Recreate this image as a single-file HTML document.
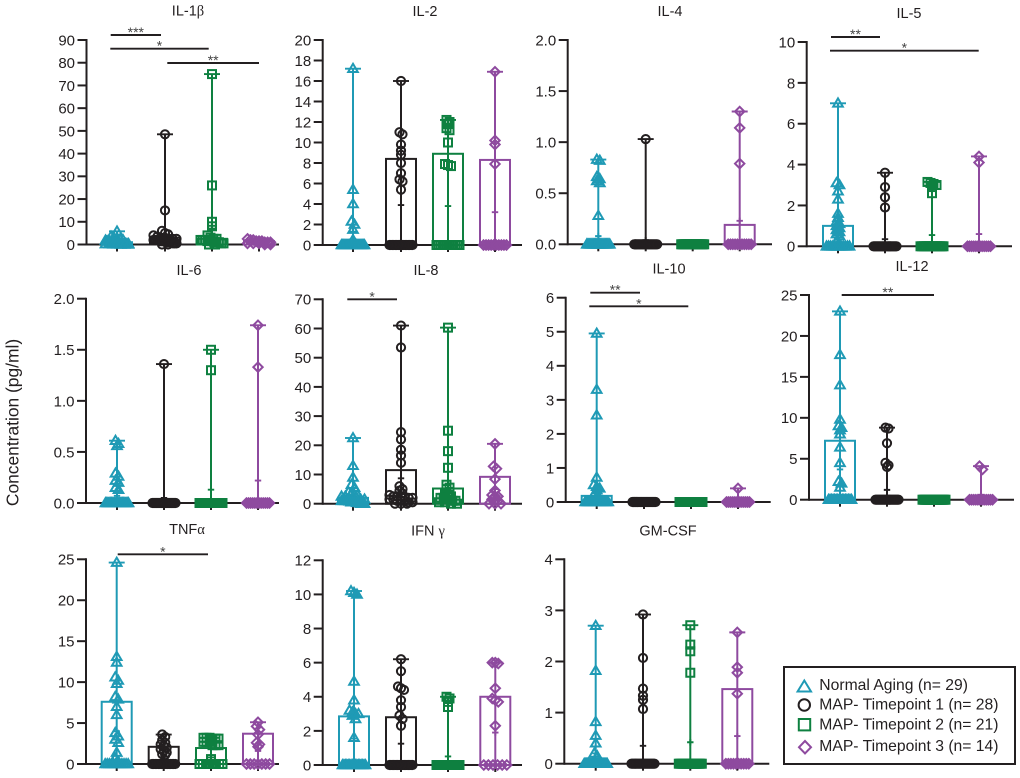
<!DOCTYPE html>
<html lang="en">
<head>
<meta charset="utf-8">
<title>Cytokine concentrations</title>
<style>
html,body{margin:0;padding:0;background:#fff;}
svg{display:block;}
text{font-family:"Liberation Sans",Arial,sans-serif;fill:#231f20;}
.ttl{font-size:14.5px;text-anchor:middle;}
.gr{font-family:"Liberation Serif",serif;}
.leg{font-size:15.7px;dominant-baseline:central;}
</style>
</head>
<body>
<svg id="chart" xmlns="http://www.w3.org/2000/svg" width="1020" height="778" viewBox="0 0 1020 778">
  <rect width="1020" height="778" fill="#fff"/>
  <text transform="translate(18.5,422.5) rotate(-90)" text-anchor="middle" font-size="17.4">Concentration (pg/ml)</text>

  <text class="ttl" x="188" y="15.5">IL-1<tspan class="gr">β</tspan></text>
  <text class="ttl" x="425" y="16">IL-2</text>
  <text class="ttl" x="670" y="16">IL-4</text>
  <text class="ttl" x="909" y="18">IL-5</text>
  <text class="ttl" x="189" y="275">IL-6</text>
  <text class="ttl" x="426" y="275">IL-8</text>
  <text class="ttl" x="669" y="273.5">IL-10</text>
  <text class="ttl" x="912" y="271">IL-12</text>
  <text class="ttl" x="187" y="534">TNF<tspan class="gr">α</tspan></text>
  <text class="ttl" x="428" y="535.5">IFN <tspan class="gr">γ</tspan></text>
  <text class="ttl" x="668" y="535.5">GM-CSF</text>

  <g id="plots"></g>

  <g>
    <rect x="784" y="667" width="231" height="97" fill="none" stroke="#231f20" stroke-width="2"/>
    <g>
      <path d="M804.3 680.5 L811 691.5 L797.6 691.5 Z" fill="none" stroke="#1f9ab5" stroke-width="2"/>
      <text class="leg" x="819.3" y="685.7">Normal Aging (n= 29)</text>
    </g>
    <g>
      <circle cx="804.3" cy="705" r="5.7" fill="none" stroke="#231f20" stroke-width="2"/>
      <text class="leg" x="819.3" y="705">MAP- Timepoint 1 (n= 28)</text>
    </g>
    <g>
      <rect x="798.8" y="719" width="11.4" height="11.4" fill="none" stroke="#0e8040" stroke-width="2"/>
      <text class="leg" x="819.3" y="725">MAP- Timepoint 2 (n= 21)</text>
    </g>
    <g>
      <path d="M805 741 L811 747.2 L805 753.4 L799 747.2 Z" fill="none" stroke="#8e4a9f" stroke-width="2"/>
      <text class="leg" x="819.3" y="746.7">MAP- Timepoint 3 (n= 14)</text>
    </g>
  </g>
</svg>

<script>
// ---- Data: tick labels, per-group values, box tops and means ----
const il1bTicks = ["0","10","20","30","40","50","60","70","80","90"];
const il1bNormal = [5.8,3.5,3,2.5,2.2,2,1.8,1.5,1.3,1.2,1,1,.8,.8,.6,.6,.5,.5,.4,.4,.3,.3,.2,.2,.1,.1,0,0,0];
const il1bT1 = [48.5,15,6,5,4.5,4,3.5,3,3,2.5,2.5,2.5,2,2,2,2,1.5,1.5,1.5,1,1,1,1,.5,.5,.5,0,0];
const il1bT2 = [75,26,10,8,4,3,2.5,2.5,2,2,2,1.5,1.5,1.5,1,1,1,.5,.5,0,0];
const il1bT3 = [2.5,2,2,1.5,1.5,1.5,1,1,1,.5,.5,.5,0,0];
const il1bQ3 = [1,3,2.5,1.5];
const il1bMean = [1,4,7,1];

const il2Ticks = ["0","2","4","6","8","10","12","14","16","18","20"];
const il2Normal = [17.2,5.4,4,2.3,2,1.5,.5,0,0,0,0,0,0,0,0,0,0,0,0,0,0,0,0,0,0,0,0,0,0];
const il2T1 = [16,11,10.8,9.8,9.2,8.8,8,7,6.4,6.2,5.4,0,0,0,0,0,0,0,0,0,0,0,0,0,0,0,0,0];
const il2T2 = [12.2,12,11.8,11.4,11.2,10,7.9,7.8,7.7,0,0,0,0,0,0,0,0,0,0,0,0];
const il2T3 = [16.9,10.2,9.8,7.9,0,0,0,0,0,0,0,0,0,0];
const il2Q3 = [0,8.4,8.9,8.3];
const il2Mean = [1.3,3.9,3.8,3.2];

const il4Ticks = ["0.0","0.5","1.0","1.5","2.0"];
const il4Normal = [.83,.82,.66,.64,.62,.6,.28,0,0,0,0,0,0,0,0,0,0,0,0,0,0,0,0,0,0,0,0,0,0];
const il4T1 = [1.03,0,0,0,0,0,0,0,0,0,0,0,0,0,0,0,0,0,0,0,0,0,0,0,0,0,0,0];
const il4T2 = [0,0,0,0,0,0,0,0,0,0,0,0,0,0,0,0,0,0,0,0,0];
const il4T3 = [1.3,1.14,.79,0,0,0,0,0,0,0,0,0,0,0];
const il4Q3 = [0,0,0,.19];
const il4Mean = [.08,.04,0,.23];

const il5Ticks = ["0","2","4","6","8","10"];
const il5Normal = [7,3.1,3,2.7,2.3,1.6,1.4,1.2,1.1,1,.9,.8,.7,.6,.5,.2,.1,0,0,0,0,0,0,0,0,0,0,0,0];
const il5T1 = [3.6,2.9,2.4,1.9,0,0,0,0,0,0,0,0,0,0,0,0,0,0,0,0,0,0,0,0,0,0,0,0];
const il5T2 = [3.15,3.1,3.05,3,2.9,2.6,0,0,0,0,0,0,0,0,0,0,0,0,0,0,0];
const il5T3 = [4.4,4.1,0,0,0,0,0,0,0,0,0,0,0,0];
const il5Q3 = [1,0,0,0];
const il5Mean = [.95,.35,.55,.6];

const il6Ticks = ["0.0","0.5","1.0","1.5","2.0"];
const il6Normal = [.61,.58,.56,.29,.26,.22,.2,.15,.13,0,0,0,0,0,0,0,0,0,0,0,0,0,0,0,0,0,0,0,0];
const il6T1 = [1.36,0,0,0,0,0,0,0,0,0,0,0,0,0,0,0,0,0,0,0,0,0,0,0,0,0,0,0];
const il6T2 = [1.5,1.3,0,0,0,0,0,0,0,0,0,0,0,0,0,0,0,0,0,0,0];
const il6T3 = [1.74,1.33,0,0,0,0,0,0,0,0,0,0,0,0];
const il6Q3 = [0,0,0,0];
const il6Mean = [.07,.05,.13,.22];

const il8Ticks = ["0","10","20","30","40","50","60","70"];
const il8Normal = [22.5,13,9,6.5,5.5,4,3.5,3,3,2.5,2.5,2,2,2,1.5,1.5,1,1,1,1,.8,.5,.5,.5,.3,.3,0,0,0];
const il8T1 = [61,53.5,24.5,22,18.5,16.5,14,6,5,4.5,3.5,3,2.5,2.5,2.5,2,2,2,1.5,1.5,1,1,1,.5,.5,0,0,0];
const il8T2 = [60.3,25,18,12.3,6.5,5.5,5,4,3.5,3,2.5,2,2,1.5,1.5,1,1,.5,.5,0,0];
const il8T3 = [20.5,12.8,12,8.4,4.5,3,2.5,2.5,1.5,1,1,0,0,0];
const il8Q3 = [2,11.5,5.2,9.2];
const il8Mean = [2.5,8.7,5,5];

const il10Ticks = ["0","1","2","3","4","5","6"];
const il10Normal = [4.95,3.3,2.55,.72,.5,.45,.4,.35,.2,.15,.1,0,0,0,0,0,0,0,0,0,0,0,0,0,0,0,0,0,0];
const il10T1 = [0,0,0,0,0,0,0,0,0,0,0,0,0,0,0,0,0,0,0,0,0,0,0,0,0,0,0,0];
const il10T2 = [0,0,0,0,0,0,0,0,0,0,0,0,0,0,0,0,0,0,0,0,0];
const il10T3 = [.4,0,0,0,0,0,0,0,0,0,0,0,0,0];
const il10Q3 = [.18,0,0,0];
const il10Mean = [.3,0,0,.03];

const il12Ticks = ["0","5","10","15","20","25"];
const il12Normal = [23,17.7,14,9.8,9,8.8,8.5,8,6.4,4.5,2.2,2,1.5,0,0,0,0,0,0,0,0,0,0,0,0,0,0,0,0];
const il12T1 = [8.8,8.7,6.9,4.5,4.2,4,0,0,0,0,0,0,0,0,0,0,0,0,0,0,0,0,0,0,0,0,0,0];
const il12T2 = [0,0,0,0,0,0,0,0,0,0,0,0,0,0,0,0,0,0,0,0,0];
const il12T3 = [4.1,3.7,0,0,0,0,0,0,0,0,0,0,0,0];
const il12Q3 = [7.2,0,0,0];
const il12Mean = [3.7,1.2,0,.6];

const tnfTicks = ["0","5","10","15","20","25"];
const tnfNormal = [24.6,13.1,12.4,10.6,10.2,9.8,8.2,7.9,7,6,3.8,3.4,3,2.6,1.4,.7,.3,0,0,0,0,0,0,0,0,0,0,0,0];
const tnfT1 = [3.6,3.3,2.9,2.6,2.4,2.2,2,1.8,1.6,1.4,1.2,1.1,0,0,0,0,0,0,0,0,0,0,0,0,0,0,0,0];
const tnfT2 = [3.2,3.2,3.2,3.1,3.1,3.1,2.7,2.7,2.7,2.3,2.3,2.3,.6,0,0,0,0,0,0,0,0];
const tnfT3 = [5.1,4.6,4.2,3.6,2.6,2.4,2.1,0,0,0,0,0,0,0];
const tnfQ3 = [7.6,2.1,1.95,3.7];
const tnfMean = [4,1,.8,1.6];

const ifnTicks = ["0","2","4","6","8","10","12"];
const ifnNormal = [10.2,10.1,10,4.9,3.8,3.2,3.1,3,3,2.9,2.7,1.6,0,0,0,0,0,0,0,0,0,0,0,0,0,0,0,0,0];
const ifnT1 = [6.2,5.5,4.6,4.5,4.4,3.8,3.4,2.9,2.7,2.3,0,0,0,0,0,0,0,0,0,0,0,0,0,0,0,0,0,0];
const ifnT2 = [4,3.9,3.7,3.4,0,0,0,0,0,0,0,0,0,0,0,0,0,0,0,0,0];
const ifnT3 = [6,6,5.95,4.5,3.9,3.8,3.7,2.3,0,0,0,0,0,0];
const ifnQ3 = [2.85,2.8,0,4];
const ifnMean = [1.55,1.25,.5,1.9];

const gmTicks = ["0","1","2","3","4"];
const gmNormal = [2.7,1.82,.82,.55,.4,.2,.15,0,0,0,0,0,0,0,0,0,0,0,0,0,0,0,0,0,0,0,0,0,0];
const gmT1 = [2.92,2.07,1.47,1.33,1.25,1.07,0,0,0,0,0,0,0,0,0,0,0,0,0,0,0,0,0,0,0,0,0,0];
const gmT2 = [2.71,2.33,2.2,1.78,0,0,0,0,0,0,0,0,0,0,0,0,0,0,0,0,0];
const gmT3 = [2.57,1.89,1.78,1.37,0,0,0,0,0,0,0,0,0,0];
const gmQ3 = [0,0,0,1.46];
const gmMean = [.2,.35,.42,.54];

const groupNames = ["normal-aging","timepoint-1","timepoint-2","timepoint-3"];
const groupColors = ["#1f9ab5","#231f20","#0e8040","#8e4a9f"];

// ---- Panel layout (pixels) ----
const panels = [
 {name:"il-1b",axisX:86.5,top:40,zero:244.5,xEnd:279,cats:[117,165,212,259],ticks:il1bTicks,groups:[il1bNormal,il1bT1,il1bT2,il1bT3],q3:il1bQ3,mean:il1bMean,
  sig:[{x1:110.7,x2:161,y:35,label:"***"},{x1:110.3,x2:208.7,y:48.7,label:"*"},{x1:167.3,x2:259,y:63,label:"**"}]},
 {name:"il-2",axisX:322.7,top:40,zero:245,xEnd:522,cats:[353,401,448,495],ticks:il2Ticks,groups:[il2Normal,il2T1,il2T2,il2T3],q3:il2Q3,mean:il2Mean,sig:[]},
 {name:"il-4",axisX:567.7,top:40,zero:244.3,xEnd:772,cats:[598.3,645.7,692.7,739.7],ticks:il4Ticks,groups:[il4Normal,il4T1,il4T2,il4T3],q3:il4Q3,mean:il4Mean,sig:[]},
 {name:"il-5",axisX:806.7,top:42,zero:246.3,xEnd:1012,cats:[838,885,932,979],ticks:il5Ticks,groups:[il5Normal,il5T1,il5T2,il5T3],q3:il5Q3,mean:il5Mean,
  sig:[{x1:831,x2:880,y:37,label:"**"},{x1:830,x2:978.7,y:50.7,label:"*"}]},
 {name:"il-6",axisX:86,top:298.7,zero:503,xEnd:279,cats:[117,164,211,258],ticks:il6Ticks,groups:[il6Normal,il6T1,il6T2,il6T3],q3:il6Q3,mean:il6Mean,sig:[]},
 {name:"il-8",axisX:322.7,top:299.3,zero:503.7,xEnd:522,cats:[353,401,448,495],ticks:il8Ticks,groups:[il8Normal,il8T1,il8T2,il8T3],q3:il8Q3,mean:il8Mean,
  sig:[{x1:347.3,x2:397,y:299.3,label:"*"}]},
 {name:"il-10",axisX:565.7,top:297.7,zero:502,xEnd:770.7,cats:[596.7,644,691,738],ticks:il10Ticks,groups:[il10Normal,il10T1,il10T2,il10T3],q3:il10Q3,mean:il10Mean,
  sig:[{x1:590.3,x2:640,y:292.7,label:"**"},{x1:589.3,x2:688.3,y:306.3,label:"*"}]},
 {name:"il-12",axisX:809,top:295,zero:499.7,xEnd:1014,cats:[840,887,934,981],ticks:il12Ticks,groups:[il12Normal,il12T1,il12T2,il12T3],q3:il12Q3,mean:il12Mean,
  sig:[{x1:841.7,x2:934,y:295,label:"**"}]},
 {name:"tnfa",axisX:86,top:559.3,zero:764,xEnd:279,cats:[116.7,163.7,211,258],ticks:tnfTicks,groups:[tnfNormal,tnfT1,tnfT2,tnfT3],q3:tnfQ3,mean:tnfMean,
  sig:[{x1:117.7,x2:208,y:554.3,label:"*"}]},
 {name:"ifng",axisX:322.7,top:560.3,zero:765,xEnd:522,cats:[354,401,448,495.3],ticks:ifnTicks,groups:[ifnNormal,ifnT1,ifnT2,ifnT3],q3:ifnQ3,mean:ifnMean,sig:[]},
 {name:"gm-csf",axisX:564.3,top:559.3,zero:763.7,xEnd:769.3,cats:[595.7,643,690.3,737.3],ticks:gmTicks,groups:[gmNormal,gmT1,gmT2,gmT3],q3:gmQ3,mean:gmMean,sig:[]}
];

const NS = "http://www.w3.org/2000/svg";
const AXIS = "#231f20";
const AXIS_W = 2;
const root = document.getElementById("plots");

function make(tag, attrs, parent) {
  const el = document.createElementNS(NS, tag);
  for (const k in attrs) el.setAttribute(k, attrs[k]);
  parent.appendChild(el);
  return el;
}

function drawMarker(kind, x, y, color, parent) {
  const sw = 2;
  let el;
  if (kind === 0) {
    el = make("path", {d:`M${x} ${y-4.9}L${x+4.8} ${y+3.3}L${x-4.8} ${y+3.3}Z`, fill:"none", stroke:color, "stroke-width":sw}, parent);
  } else if (kind === 1) {
    el = make("circle", {cx:x, cy:y, r:4.1, fill:"none", stroke:color, "stroke-width":sw}, parent);
  } else if (kind === 2) {
    el = make("rect", {x:x-4, y:y-4, width:8, height:8, fill:"none", stroke:color, "stroke-width":sw}, parent);
  } else {
    el = make("path", {d:`M${x} ${y-4.7}L${x+4.7} ${y}L${x} ${y+4.7}L${x-4.7} ${y}Z`, fill:"none", stroke:color, "stroke-width":sw}, parent);
  }
  
  
}

function swarm(values, yScale) {
  const sorted = values.slice().sort((a, b) => b - a);
  const zeroY = yScale(0);
  const bins = [];
  sorted.forEach(v => {
    const y = yScale(v);
    const last = bins[bins.length - 1];
    if (last && y - last.y0 <= 3.5) last.items.push(y);
    else bins.push({y0: y, items: [y]});
  });
  const out = [];
  bins.forEach(b => {
    const n = b.items.length;
    const atZero = b.items[n - 1] >= zeroY - 0.01;
    const step = n === 1 ? 0 : (atZero || n > 6) ? Math.min(6, 23 / (n - 1)) : 3;
    b.items.forEach((y, i) => out.push({dx: (i - (n - 1) / 2) * step, y}));
  });
  return out;
}

panels.forEach(p => {
  const g = make("g", {}, root);
  
  

  const yMax = parseFloat(p.ticks[p.ticks.length - 1]);
  const yScale = v => p.zero - (v / yMax) * (p.zero - p.top);

  // axes
  const yAxis = make("line", {x1:p.axisX, x2:p.axisX, y1:p.top - 1, y2:p.zero + 1, stroke:AXIS, "stroke-width":AXIS_W}, g);
  
  
  const xAxis = make("line", {x1:p.axisX, x2:p.xEnd, y1:p.zero, y2:p.zero, stroke:AXIS, "stroke-width":AXIS_W}, g);
  
  

  p.ticks.forEach(t => {
    const y = yScale(parseFloat(t));
    const tick = make("line", {x1:p.axisX - 9, x2:p.axisX, y1:y, y2:y, stroke:AXIS, "stroke-width":AXIS_W}, g);
    
    
    const label = make("text", {x:p.axisX - 11.5, y:y + 5.4, "text-anchor":"end", "font-size":15}, g);
    label.textContent = t;
    
    
  });

  p.cats.forEach(x => {
    const tick = make("line", {x1:x, x2:x, y1:p.zero, y2:p.zero + 7, stroke:AXIS, "stroke-width":AXIS_W}, g);
    
    
  });

  // groups
  p.groups.forEach((values, i) => {
    const color = groupColors[i];
    const x = p.cats[i];
    const sg = make("g", {}, g);
    
    

    if (p.q3[i] > 0) {
      const box = make("rect", {x:x - 15, y:yScale(p.q3[i]), width:30, height:p.zero - yScale(p.q3[i]), fill:"none", stroke:color, "stroke-width":2}, sg);
      
      
    }

    const max = Math.max.apply(null, values);
    if (max > 0) {
      const whisker = make("line", {x1:x, x2:x, y1:yScale(max), y2:p.zero, stroke:color, "stroke-width":2}, sg);
      
      
      const cap = make("line", {x1:x - 8, x2:x + 8, y1:yScale(max), y2:yScale(max), stroke:color, "stroke-width":1.9}, sg);
      
      
    }

    const my = yScale(p.mean[i]);
    const plus = make("path", {d:`M${x - 3.2} ${my}H${x + 3.2}M${x} ${my - 3.2}V${my + 3.2}`, fill:"none", stroke:color, "stroke-width":1.9}, sg);
    
    

    swarm(values, yScale).forEach(pt => drawMarker(i, x + pt.dx, pt.y, color, sg));
  });

  // significance brackets
  p.sig.forEach(s => {
    const line = make("line", {x1:s.x1, x2:s.x2, y1:s.y, y2:s.y, stroke:"#231f20", "stroke-width":1.9}, g);
    
    
    const star = make("text", {x:(s.x1 + s.x2) / 2, y:s.y + 2, "text-anchor":"middle", "font-size":14, style:"fill:#444"}, g);
    star.textContent = s.label;
    
    
  });
});
</script>
</body>
</html>
